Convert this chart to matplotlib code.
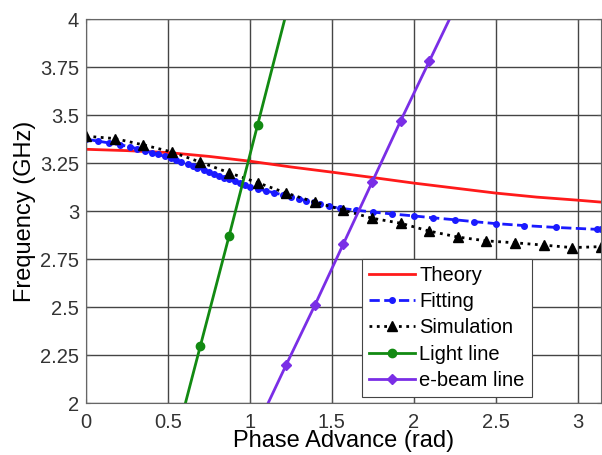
import numpy as np
import matplotlib
matplotlib.use('Agg')
import matplotlib.pyplot as plt

plt.rcParams['font.family'] = ['Liberation Sans', 'DejaVu Sans']

# ── Data ──────────────────────────────────────────────────────
theory_x = [0, 0.25, 0.5, 0.75, 1.0, 1.25, 1.5, 1.75, 2.0, 2.25, 2.5, 2.75, 3.0, 3.1416]
theory_f = [3.322, 3.315, 3.305, 3.285, 3.26, 3.23, 3.203, 3.175, 3.146, 3.12, 3.094,
            3.073, 3.057, 3.047]

fit_x = [0, 0.07, 0.14, 0.21, 0.27, 0.31, 0.36, 0.40, 0.44, 0.48, 0.52, 0.55, 0.58,
         0.62, 0.65, 0.68, 0.72, 0.75, 0.78, 0.81, 0.84, 0.87, 0.91, 0.94, 0.97, 1.00,
         1.05, 1.10, 1.15, 1.20, 1.25, 1.30, 1.34, 1.39, 1.43, 1.48, 1.55, 1.65, 1.75,
         1.87, 2.00, 2.12, 2.25, 2.37, 2.50, 2.67, 2.87, 3.12, 3.1416]
fit_f = [3.375, 3.365, 3.355, 3.345, 3.335, 3.325, 3.315, 3.305, 3.295, 3.285, 3.275,
         3.265, 3.255, 3.245, 3.235, 3.225, 3.215, 3.205, 3.195, 3.185, 3.175, 3.165,
         3.155, 3.145, 3.135, 3.125, 3.115, 3.105, 3.095, 3.085, 3.075, 3.065, 3.055,
         3.045, 3.035, 3.025, 3.015, 3.005, 2.995, 2.985, 2.975, 2.965, 2.955, 2.945,
         2.935, 2.925, 2.915, 2.905, 2.905]

sim_x = [0, 0.1745, 0.349, 0.5236, 0.6981, 0.8727, 1.0472, 1.2217, 1.3963, 1.5708,
         1.7453, 1.9199, 2.0944, 2.2689, 2.4435, 2.618, 2.7925, 2.9671, 3.1416]
sim_f = [3.39, 3.378, 3.345, 3.308, 3.255, 3.20, 3.148, 3.094, 3.047, 3.005,
         2.963, 2.937, 2.896, 2.865, 2.845, 2.835, 2.823, 2.81, 2.815]

light_x = [0.5236, 0.6981, 0.8727, 1.0472, 1.2217]
light_f = [1.73, 2.30, 2.87, 3.45, 4.03]

ebeam_x = [1.0472, 1.2217, 1.3963, 1.5708, 1.7453, 1.9199, 2.0944, 2.2689]
ebeam_f = [1.885, 2.20, 2.51, 2.83, 3.15, 3.47, 3.78, 4.09]

x_ticks = [0, 0.5, 1, 1.5, 2, 2.5, 3]
x_tick_labels = ['0', '0.5', '1', '1.5', '2', '2.5', '3']
y_ticks = [2, 2.25, 2.5, 2.75, 3, 3.25, 3.5, 3.75, 4]
y_tick_labels = ['2', '2.25', '2.5', '2.75', '3', '3.25', '3.5', '3.75', '4']

# ── Plot ──────────────────────────────────────────────────────
fig = plt.figure(figsize=(6.02, 4.55), dpi=100)
ax = fig.add_axes([0.143, 0.114, 0.855, 0.844])

ax.plot(theory_x, theory_f, color='#ff1a1a', lw=2, label='Theory')
ax.plot(fit_x, fit_f, color='#1a1aff', lw=2, ls='--', marker='o', ms=4,
        label='Fitting')
ax.plot(sim_x, sim_f, color='black', lw=2, ls=':', marker='^', ms=7,
        label='Simulation')
ax.plot(light_x, light_f, color='#128a12', lw=2, marker='o', ms=6,
        label='Light line')
ax.plot(ebeam_x, ebeam_f, color='#7a2ee6', lw=2, marker='D', ms=5,
        label='e-beam line')

ax.set_xlim(0, np.pi)
ax.set_ylim(2, 4)
ax.set_xticks(x_ticks)
ax.set_xticklabels(x_tick_labels)
ax.set_yticks(y_ticks)
ax.set_yticklabels(y_tick_labels)
ax.tick_params(direction='in', length=3, labelsize=14.5, labelcolor='#333333',
               color='#555555', top=True, right=True)
ax.tick_params(axis='x', pad=7)
ax.tick_params(axis='y', pad=5)
ax.grid(True, color='#444444', lw=1, ls='-')
for s in ax.spines.values():
    s.set_color('#666666')

ax.set_xlabel('Phase Advance (rad)', fontsize=17, labelpad=-1)
ax.set_ylabel('Frequency (GHz)', fontsize=17, labelpad=3)

leg = ax.legend(loc='lower left', bbox_to_anchor=(0.536, 0.016), fontsize=14.5,
                handlelength=2.3, handletextpad=0.2, labelspacing=0.36,
                borderpad=0.35, borderaxespad=0, fancybox=False, framealpha=1,
                edgecolor='#444444')
leg.get_frame().set_linewidth(0.8)

fig.savefig('out.png', dpi=100)
